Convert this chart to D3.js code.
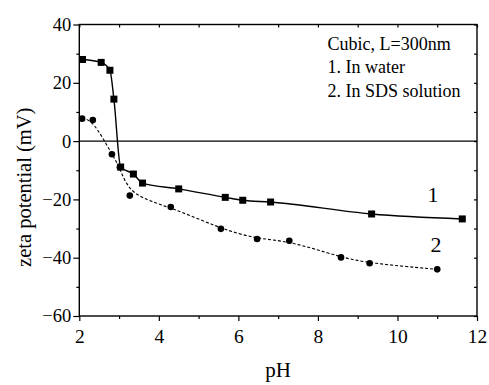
<!DOCTYPE html>
<html>
<head>
<meta charset="utf-8">
<script src="https://cdn.jsdelivr.net/npm/d3@7"></script>
<style>
  html, body { margin: 0; padding: 0; background: #fff; }
</style>
</head>
<body>
<svg id="chart" width="489" height="385"></svg>
<script>
// ---- data ----
const water_pH   = [2.08, 2.55, 2.77, 2.87, 3.04, 3.36, 3.59, 4.50, 5.67, 6.11, 6.81, 9.35, 11.63];
const water_zeta = [28.0, 27.0, 24.3, 14.4, -8.9, -11.3, -14.4, -16.4, -19.3, -20.3, -20.9, -25.0, -26.7];
const sds_pH     = [2.07, 2.34, 2.82, 3.02, 3.27, 4.30, 5.56, 6.47, 7.28, 8.58, 9.30, 11.00];
const sds_zeta   = [7.7, 7.2, -4.5, -9.0, -18.7, -22.6, -30.1, -33.6, -34.2, -39.9, -41.9, -44.0];
const xTicks = [2, 4, 6, 8, 10, 12];
const yTicks = [-60, -40, -20, 0, 20, 40];
const xMinor = [3, 5, 7, 9, 11];
const yMinor = [-50, -30, -10, 10, 30];
const legendLines = ["Cubic, L=300nm", "1. In water", "2. In SDS solution"];
const seriesLabels = ["1", "2"];

const FONT = "'Liberation Serif', 'DejaVu Serif', serif";

// ---- layout ----
const svg = d3.select("#chart");
const L = 79.3, R = 477, T = 24.5, B = 316;
const x = d3.scaleLinear().domain([2, 12]).range([L, R]);
const y = d3.scaleLinear().domain([-60, 40]).range([B, T]);

// frame
svg.append("rect").attr("x", L).attr("y", T).attr("width", R - L).attr("height", B - T)
  .attr("fill", "none").attr("stroke", "#000").attr("stroke-width", 1.4);

// zero line
svg.append("line").attr("x1", L).attr("x2", R).attr("y1", y(0)).attr("y2", y(0))
  .attr("stroke", "#000").attr("stroke-width", 1.3);

// bottom axis
const xAxis = svg.append("g").attr("transform", `translate(0,${B})`)
  .call(d3.axisBottom(x).tickValues(xTicks).tickSize(5).tickPadding(8).tickFormat(d3.format("d")));
xAxis.select(".domain").remove();
xAxis.selectAll("text").style("font-size", "19.5px");
svg.append("g").attr("transform", `translate(0,${B})`)
  .call(d3.axisBottom(x).tickValues(xMinor).tickSize(3).tickFormat(""))
  .select(".domain").remove();

// left axis
const yAxis = svg.append("g").attr("transform", `translate(${L},0)`)
  .call(d3.axisLeft(y).tickValues(yTicks).tickSize(6).tickPadding(2).tickFormat(d3.format("d")));
yAxis.select(".domain").remove();
yAxis.selectAll("text").style("font-size", "18.5px");
svg.append("g").attr("transform", `translate(${L},0)`)
  .call(d3.axisLeft(y).tickValues(yMinor).tickSize(3).tickFormat(""))
  .select(".domain").remove();

// mirrored ticks on top/right (inward)
svg.append("g").attr("transform", `translate(0,${T})`)
  .call(d3.axisBottom(x).tickValues(xTicks.concat(xMinor)).tickSize(3).tickFormat(""))
  .select(".domain").remove();
svg.append("g").attr("transform", `translate(${R},0)`)
  .call(d3.axisLeft(y).tickValues(yTicks.concat(yMinor)).tickSize(3).tickFormat(""))
  .select(".domain").remove();
svg.selectAll(".tick line").attr("stroke", "#000").attr("stroke-width", 1.2);

// axis titles
svg.append("text").attr("x", (L + R) / 2).attr("y", 377).attr("text-anchor", "middle")
  .style("font-size", "21px").text("pH");
svg.append("text").attr("transform", `translate(31,${(T + B) / 2 + 17}) rotate(-90)`)
  .attr("text-anchor", "middle").style("font-size", "20.5px").text("zeta potential (mV)");

// series
const water = water_pH.map((p, i) => [p, water_zeta[i]]);
const sds = sds_pH.map((p, i) => [p, sds_zeta[i]]);

svg.append("path").datum(water)
  .attr("d", d3.line().x(d => x(d[0])).y(d => y(d[1])).curve(d3.curveMonotoneX))
  .attr("fill", "none").attr("stroke", "#000").attr("stroke-width", 1.4);
svg.append("path").datum(sds)
  .attr("d", d3.line().x(d => x(d[0])).y(d => y(d[1])).curve(d3.curveBasis))
  .attr("fill", "none").attr("stroke", "#000").attr("stroke-width", 1.1).attr("stroke-dasharray", "3,2");

svg.selectAll("rect.sq").data(water).enter().append("rect").attr("class", "sq")
  .attr("x", d => x(d[0]) - 3.5).attr("y", d => y(d[1]) - 3.5)
  .attr("width", 7).attr("height", 7).attr("fill", "#000");
svg.selectAll("circle.ci").data(sds).enter().append("circle").attr("class", "ci")
  .attr("cx", d => x(d[0])).attr("cy", d => y(d[1])).attr("r", 3.3).attr("fill", "#000");

// series labels
svg.append("text").attr("x", 433).attr("y", 202).attr("text-anchor", "middle")
  .style("font-size", "22px").text(seriesLabels[0]);
svg.append("text").attr("x", 436).attr("y", 252).attr("text-anchor", "middle")
  .style("font-size", "22px").text(seriesLabels[1]);

// legend text
svg.selectAll("text.leg").data(legendLines).enter().append("text").attr("class", "leg")
  .attr("x", 327.5).attr("y", (d, i) => 50 + i * 23.3)
  .style("font-size", "18px").text(d => d);

// force serif font on all text
svg.selectAll("text").style("font-family", FONT).attr("fill", "#000");
</script>
</body>
</html>
